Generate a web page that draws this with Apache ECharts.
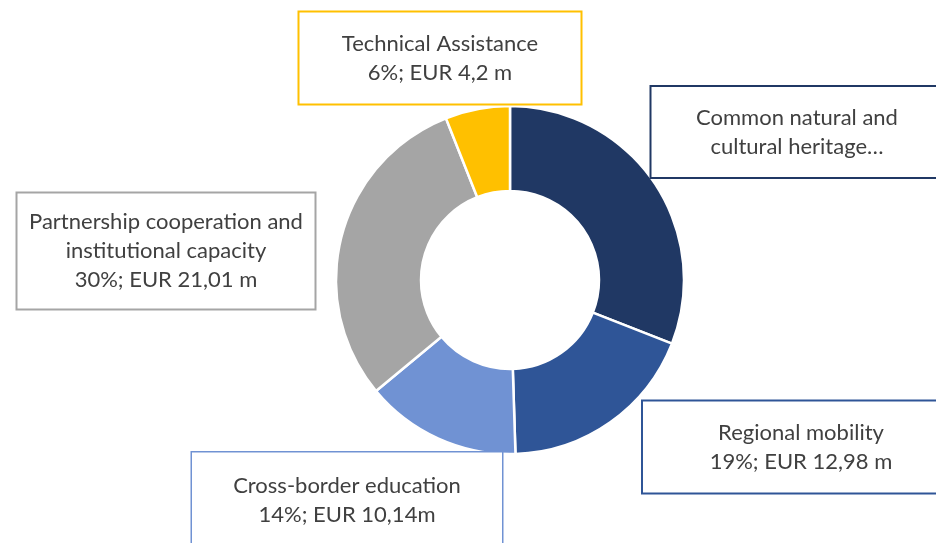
<!DOCTYPE html>
<html>
<head>
<meta charset="utf-8">
<script src="https://cdn.jsdelivr.net/npm/echarts@6/dist/echarts.min.js"></script>
<style>
  html, body { margin: 0; padding: 0; background: #fff; }
  #chart { width: 936px; height: 543px; }
</style>
</head>
<body>
<div id="chart"></div>
<script>
// data (EUR m)
var names = ['Common natural and cultural heritage', 'Regional mobility', 'Cross-border education',
    'Partnership cooperation and institutional capacity', 'Technical Assistance'];
var values = [21.67, 12.98, 10.14, 21.01, 4.2];
var labelTexts = [
    'Common natural and\ncultural heritage…',
    'Regional mobility\n19%; EUR 12,98 m',
    'Cross-border education\n14%; EUR 10,14m',
    'Partnership cooperation and\ninstitutional capacity\n30%; EUR 21,01 m',
    'Technical Assistance\n6%; EUR 4,2 m'
];
var colors = ['#203864', '#2F5597', '#7092D3', '#A5A5A5', '#FFC000'];

// label boxes: centre x, centre y, width, height
var boxes = [
    [797, 132, 291, 90],
    [801, 447, 316, 91],
    [347, 500, 310, 95],
    [166, 251, 297, 115],
    [440, 58, 281, 91]
];
var lineH = 29;

var data = names.map(function (n, i) {
    var lines = labelTexts[i].split('\n').length;
    var padV = (boxes[i][3] - lines * lineH) / 2;
    return {
        name: n,
        value: values[i],
        itemStyle: { color: colors[i] },
        label: {
            formatter: labelTexts[i],
            width: boxes[i][2],
            padding: [padV, 0, padV, 0],
            borderColor: colors[i],
            borderWidth: i === 2 ? 1.5 : 2
        }
    };
});

var option = {
    backgroundColor: '#fff',
    animation: false,
    series: [{
        type: 'pie',
        center: [510, 280],
        radius: [89, 174],
        startAngle: 90,
        clockwise: true,
        itemStyle: { borderColor: '#fff', borderWidth: 2.5 },
        label: {
            show: true,
            position: 'outside',
            color: '#404040',
            fontFamily: 'Lato',
            fontSize: 22,
            lineHeight: lineH,
            align: 'center',
            backgroundColor: '#fff'
        },
        labelLine: { show: false },
        labelLayout: function (p) {
            var b = boxes[p.dataIndex];
            return { x: b[0], y: b[1], align: 'center', verticalAlign: 'middle' };
        },
        data: data
    }]
};

var myChart = echarts.init(document.getElementById('chart'));
myChart.setOption(option);
</script>
</body>
</html>
